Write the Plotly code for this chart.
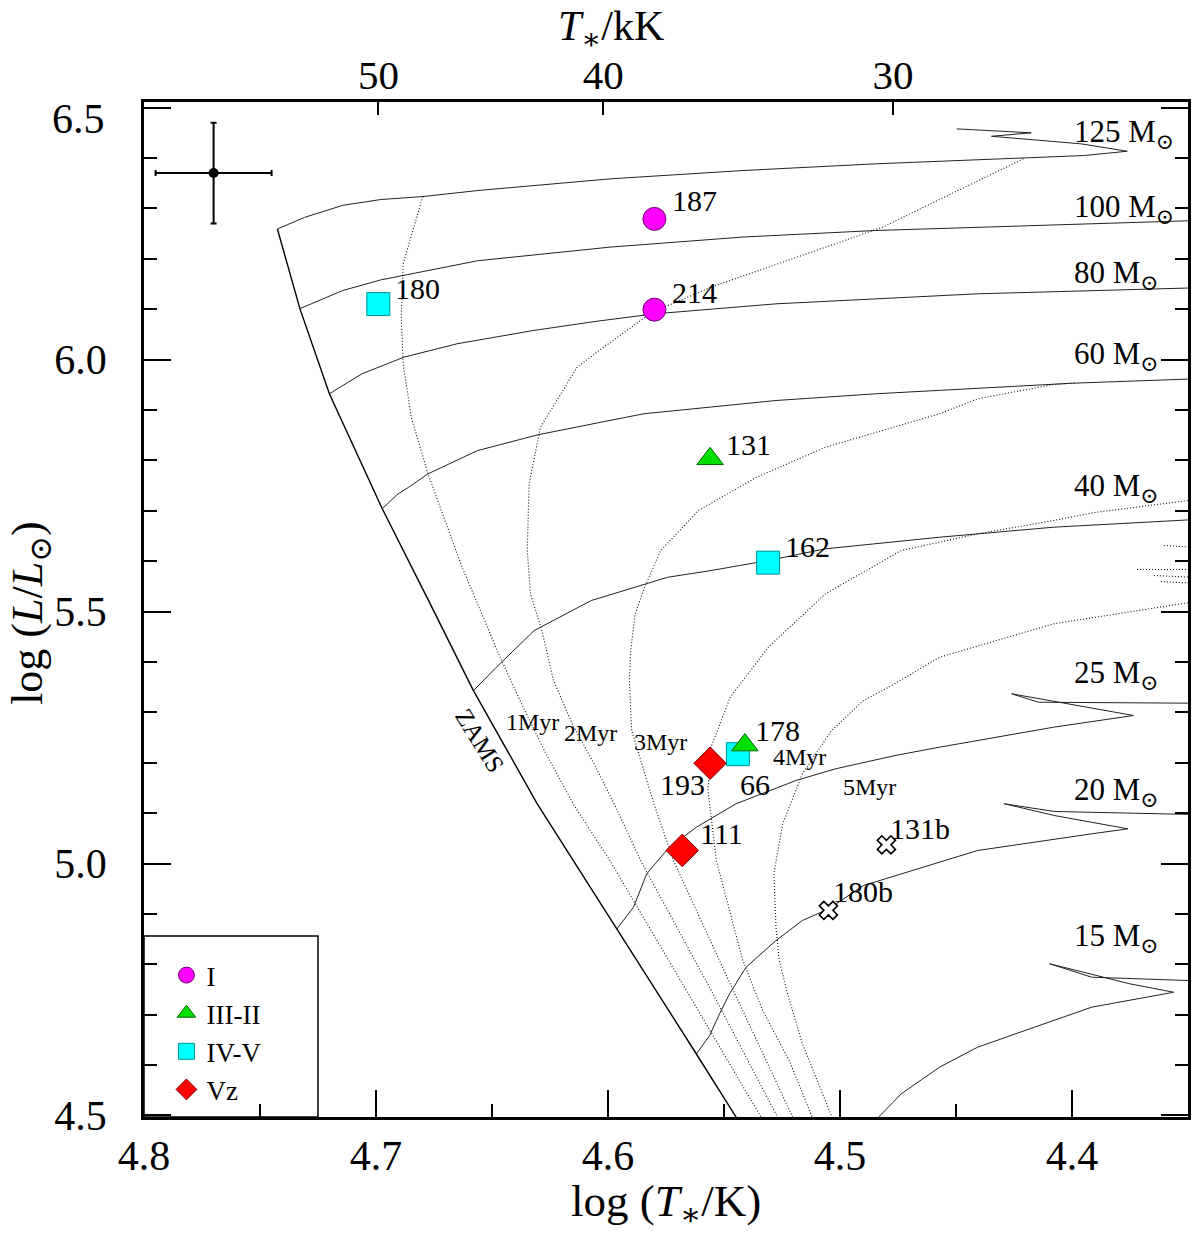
import numpy as np
import plotly.graph_objects as go

FONT = "Liberation Serif, Times New Roman, DejaVu Serif, serif"

# ---------------- data (log T*, log L) ----------------
zams_logT = [4.7425, 4.7328, 4.7201, 4.6973, 4.6776, 4.658, 4.6305, 4.6048, 4.5962, 4.5819, 4.5619, 4.5448, 4.5426]
zams_logL = [6.259, 6.101, 5.932, 5.704, 5.524, 5.343, 5.1185, 4.933, 4.870, 4.768, 4.622, 4.497, 4.480]

track125_logT = [4.7425, 4.7308, 4.7143, 4.6979, 4.6798, 4.6562, 4.5991, 4.5419, 4.4847, 4.4407, 4.3947, 4.3762, 4.3847, 4.3961, 4.4347, 4.4176, 4.4497]
track125_logL = [6.259, 6.282, 6.306, 6.3175, 6.3234, 6.3353, 6.3585, 6.375, 6.3883, 6.3962, 6.4048, 6.4133, 6.4192, 6.428, 6.443, 6.4498, 6.4577]

track100_logT = [4.7328, 4.7143, 4.6979, 4.6815, 4.6562, 4.5992, 4.5419, 4.4847, 4.4407, 4.3915, 4.345]
track100_logL = [6.101, 6.137, 6.158, 6.173, 6.196, 6.223, 6.243, 6.256, 6.2625, 6.2704, 6.276]

track80_logT = [4.7201, 4.7061, 4.688, 4.6651, 4.6323, 4.6048, 4.5798, 4.5276, 4.4407, 4.345]
track80_logL = [5.932, 5.9716, 6.0046, 6.0312, 6.0575, 6.076, 6.0907, 6.1105, 6.1304, 6.1425]

track60_logT = [4.6973, 4.6905, 4.6859, 4.6776, 4.6562, 4.6297, 4.5847, 4.5276, 4.4847, 4.4407, 4.3999, 4.345]
track60_logL = [5.704, 5.7335, 5.7466, 5.7732, 5.8194, 5.8512, 5.8923, 5.9187, 5.932, 5.9431, 5.953, 5.962]

track40_logT = [4.658, 4.6481, 4.6318, 4.6072, 4.5743, 4.5556, 4.5309, 4.5063, 4.4571, 4.4079, 4.345]
track40_logL = [5.343, 5.3895, 5.4623, 5.5218, 5.568, 5.5813, 5.6012, 5.6244, 5.6474, 5.6673, 5.683]

track25_logT = [4.5962, 4.589, 4.5833, 4.5748, 4.5676, 4.5619, 4.5448, 4.519, 4.5019, 4.4762, 4.4571, 4.408, 4.3735, 4.426, 4.4144, 4.345]
track25_logL = [4.870, 4.9133, 4.9796, 5.0258, 5.0522, 5.072, 5.1185, 5.1647, 5.1879, 5.2143, 5.2308, 5.2704, 5.2937, 5.3367, 5.320, 5.318]

track20_logT = [4.5619, 4.5562, 4.5519, 4.5476, 4.5405, 4.5276, 4.5162, 4.5048, 4.4899, 4.4407, 4.3915, 4.3759, 4.4076, 4.4292, 4.4076, 4.345]
track20_logL = [4.622, 4.6587, 4.7018, 4.7415, 4.7942, 4.8472, 4.8869, 4.9101, 4.9563, 5.0258, 5.0589, 5.0688, 5.0952, 5.1185, 5.1032, 5.097]

track15_logT = [4.489, 4.4834, 4.4736, 4.4571, 4.4407, 4.4162, 4.3915, 4.3562, 4.3751, 4.4096, 4.3915, 4.345]
track15_logL = [4.470, 4.4966, 4.543, 4.5958, 4.6355, 4.6752, 4.7149, 4.7446, 4.7613, 4.801, 4.7744, 4.767]

iso1_logT = [4.6798, 4.6883, 4.6891, 4.6883, 4.6848, 4.6776, 4.6629, 4.6465, 4.6369, 4.627, 4.6146, 4.5992, 4.5662, 4.534, 4.5319]
iso1_logL = [6.3234, 6.1899, 6.0839, 5.9915, 5.8855, 5.7732, 5.5879, 5.4093, 5.3135, 5.2202, 5.1151, 5.006, 4.748, 4.496, 4.48]

iso2_logT = [4.421, 4.4817, 4.5556, 4.5812, 4.6048, 4.6133, 4.6291, 4.634, 4.6348, 4.6334, 4.6285, 4.6235, 4.6155, 4.6056, 4.597, 4.5855, 4.5555, 4.5267, 4.525]
iso2_logL = [6.3982, 6.2625, 6.1435, 6.0933, 6.0145, 5.9847, 5.8657, 5.7534, 5.621, 5.5351, 5.4623, 5.3631, 5.2778, 5.1944, 5.1151, 5.002, 4.748, 4.496, 4.48]

iso3_logT = [4.399, 4.408, 4.4407, 4.4571, 4.5063, 4.5362, 4.561, 4.5773, 4.5842, 4.5883, 4.5902, 4.5908, 4.5898, 4.5802, 4.5718, 4.546, 4.5203, 4.519]
iso3_logL = [5.9534, 5.9504, 5.922, 5.8923, 5.826, 5.7659, 5.7004, 5.621, 5.5482, 5.4954, 5.4226, 5.3631, 5.2639, 5.1185, 5.006, 4.748, 4.496, 4.48]

iso4_logT = [4.345, 4.3904, 4.408, 4.4407, 4.4736, 4.5063, 4.5309, 4.5473, 4.5556, 4.5569, 4.5533, 4.5477, 4.5419, 4.5333, 4.5219, 4.5119, 4.5104]
iso4_logL = [5.7232, 5.6964, 5.6806, 5.6542, 5.621, 5.5351, 5.4292, 5.33, 5.2308, 5.1448, 5.006, 4.9067, 4.8075, 4.7083, 4.6091, 4.496, 4.48]

iso5_logT = [4.345, 4.4079, 4.4571, 4.479, 4.4899, 4.504, 4.5162, 4.5247, 4.5285, 4.5276, 4.5262, 4.5226, 4.5162, 4.5033, 4.502]
iso5_logL = [5.521, 5.4756, 5.4093, 5.3498, 5.3234, 5.2619, 5.178, 5.0788, 4.9802, 4.8736, 4.8075, 4.7415, 4.6423, 4.496, 4.48]

tail_logT = [4.3604, 4.345, None, 4.372, 4.345, None, 4.3647, 4.345, None, 4.3617, 4.345]
tail_logL = [5.631, 5.627, None, 5.5833, 5.5833, None, 5.5714, 5.5675, None, 5.5595, 5.5556]

# stars by luminosity class
classI_name = ["187", "214"]
classI_logT = [4.580, 4.580]
classI_logL = [6.279, 6.099]

classIII_name = ["131", "178"]
classIII_logT = [4.556, 4.541]
classIII_logL = [5.803, 5.235]

classIV_name = ["180", "162", "66"]
classIV_logT = [4.699, 4.531, 4.544]
classIV_logL = [6.110, 5.597, 5.217]

classVz_name = ["193", "111"]
classVz_logT = [4.556, 4.568]
classVz_logL = [5.199, 5.026]

comp_name = ["131b", "180b"]
comp_logT = [4.480, 4.505]
comp_logL = [5.037, 4.907]

# star label positions
label_text = ["187", "214", "180", "131", "162", "178", "66", "193", "111", "131b", "180b"]
label_logT = [4.5733, 4.5733, 4.6926, 4.5498, 4.5244, 4.5376, 4.5438, 4.5786, 4.5612, 4.4793, 4.504]
label_logL = [6.3155, 6.1335, 6.1419, 5.8317, 5.6294, 5.2649, 5.1577, 5.1577, 5.060, 5.0688, 4.944]

mass_text = ["125", "100", "80", "60", "40", "25", "20", "15"]
mass_logT = [4.40, 4.40, 4.40, 4.40, 4.40, 4.40, 4.40, 4.40]
mass_logL = [6.4494, 6.3006, 6.170, 6.0099, 5.7466, 5.3764, 5.1448, 4.8538]

age_text = ["1Myr", "2Myr", "3Myr", "4Myr", "5Myr"]
age_logT = [4.6449, 4.6198, 4.5898, 4.5297, 4.4997]
age_logL = [5.2804, 5.2589, 5.2407, 5.2109, 5.1518]

errbar_logT = [4.770]
errbar_logL = [6.370]
errbar_dT = [0.025]
errbar_dL = [0.10]

top_kK = [50, 40, 30]

# ---------------- figure ----------------
fig = go.Figure()

def lines(x, y, width=1.0, dash=None, color="#222222"):
    return go.Scatter(x=x, y=y, mode="lines",
                      line=dict(color=color, width=width, dash=dash),
                      showlegend=False, hoverinfo="skip")

for tx, ty in [(track125_logT, track125_logL), (track100_logT, track100_logL),
               (track80_logT, track80_logL), (track60_logT, track60_logL),
               (track40_logT, track40_logL), (track25_logT, track25_logL),
               (track20_logT, track20_logL), (track15_logT, track15_logL)]:
    fig.add_trace(lines(tx, ty, 1.0, None, "#222222"))

for ix, iy in [(iso1_logT, iso1_logL), (iso2_logT, iso2_logL), (iso3_logT, iso3_logL),
               (iso4_logT, iso4_logL), (iso5_logT, iso5_logL), (tail_logT, tail_logL)]:
    fig.add_trace(lines(ix, iy, 1.1, "1px,2px", "#111111"))

fig.add_trace(lines(zams_logT, zams_logL, 1.4, None, "#000000"))

# error-bar indicator
fig.add_trace(go.Scatter(
    x=errbar_logT, y=errbar_logL, mode="markers",
    marker=dict(color="black", size=10),
    error_x=dict(type="data", array=errbar_dT, color="black", thickness=2, width=3),
    error_y=dict(type="data", array=errbar_dL, color="black", thickness=2, width=3),
    showlegend=False, hoverinfo="skip"))

fig.add_trace(go.Scatter(
    x=classIV_logT, y=classIV_logL, hovertext=classIV_name, mode="markers", name="IV-V",
    legendrank=3,
    marker=dict(symbol="square", size=23, color="#00FFFF", line=dict(color="#009090", width=1))))
fig.add_trace(go.Scatter(
    x=classIII_logT, y=classIII_logL, hovertext=classIII_name, mode="markers", name="III-II",
    legendrank=2,
    marker=dict(symbol="triangle-up", size=23, color="#00E000", line=dict(color="#006600", width=1))))
fig.add_trace(go.Scatter(
    x=classI_logT, y=classI_logL, hovertext=classI_name, mode="markers", name="I",
    legendrank=1,
    marker=dict(symbol="circle", size=23, color="#FF00FF", line=dict(color="#700070", width=1))))
fig.add_trace(go.Scatter(
    x=classVz_logT, y=classVz_logL, hovertext=classVz_name, mode="markers", name="Vz",
    legendrank=4,
    marker=dict(symbol="diamond", size=25, color="#FF0000", line=dict(color="#800000", width=1))))
fig.add_trace(go.Scatter(
    x=comp_logT, y=comp_logL, hovertext=comp_name, mode="markers", showlegend=False,
    marker=dict(symbol="x", size=16, color="white", line=dict(color="black", width=1.6))))

# invisible trace so the top (kK) axis is drawn
fig.add_trace(go.Scatter(x=[4.6], y=[5.0], xaxis="x2", mode="markers",
                         marker=dict(opacity=0), showlegend=False, hoverinfo="skip"))

ann = []
for t, x, y in zip(label_text, label_logT, label_logL):
    ann.append(dict(x=x, y=y, xref="x", yref="y", text=t, showarrow=False,
                    xanchor="left", yanchor="middle", font=dict(size=30)))
for t, x, y in zip(mass_text, mass_logT, mass_logL):
    ann.append(dict(x=x, y=y, xref="x", yref="y", text=t + " M<sub>⊙</sub>", showarrow=False,
                    xanchor="left", yanchor="middle", yshift=-1, font=dict(size=31)))
for t, x, y in zip(age_text, age_logT, age_logL):
    ann.append(dict(x=x, y=y, xref="x", yref="y", text=t, showarrow=False,
                    xanchor="left", yanchor="middle", font=dict(size=24)))
ann.append(dict(x=4.6553, y=5.244, xref="x", yref="y", text="ZAMS", showarrow=False,
                textangle=58, font=dict(size=25)))
# axis titles
ann.append(dict(x=0.5, y=-0.086, xref="paper", yref="paper", showarrow=False,
                text="log (<i>T</i><sub>∗</sub>/K)", xanchor="center", yanchor="middle",
                font=dict(size=45)))
ann.append(dict(x=-0.1089, y=0.497, xref="paper", yref="paper", showarrow=False,
                text="log (<i>L</i>/<i>L</i><sub>⊙</sub>)", textangle=-90,
                xanchor="center", yanchor="middle", font=dict(size=44)))
ann.append(dict(x=0.447, y=1.072, xref="paper", yref="paper", showarrow=False,
                text="<i>T</i><sub>∗</sub>/kK", xanchor="center", yanchor="middle",
                font=dict(size=42)))
# top-most y tick label sits slightly below its tick
ann.append(dict(x=-0.035, y=6.5, xref="paper", yref="y", showarrow=False, text="6.5",
                xanchor="right", yanchor="middle", yshift=-11, font=dict(size=42)))

axis_common = dict(showgrid=False, zeroline=False, tickcolor="black", tickwidth=1.5,
                   linecolor="black", linewidth=2.5, showline=True)

# the page body adds an 8 px offset, so the figure is made smaller and margins compensate
fig.update_layout(
    width=1184, height=1221,
    margin=dict(l=136, r=1, t=94, b=112),
    plot_bgcolor="white", paper_bgcolor="white",
    font=dict(family=FONT, size=30, color="black"),
    xaxis=dict(range=[4.8, 4.35], dtick=0.1, tick0=4.4, tickformat=".1f",
               ticks="inside", ticklen=27, mirror=True,
               tickfont=dict(size=42), ticklabelstandoff=0,
               minor=dict(dtick=0.05, tick0=4.4, ticks="inside", ticklen=13,
                          tickwidth=1.5, tickcolor="black", showgrid=False),
               **axis_common),
    xaxis2=dict(overlaying="x", side="top", range=[4.8, 4.35],
                tickmode="array", tickvals=list(np.log10(np.array(top_kK) * 1000.0)),
                ticktext=[str(v) for v in top_kK], ticks="inside", ticklen=13,
                tickwidth=1.5, tickcolor="black", showline=False, showgrid=False,
                zeroline=False, tickfont=dict(size=41), ticklabelstandoff=4),
    yaxis=dict(range=[4.497, 6.511], tickmode="array",
               tickvals=[4.5, 5.0, 5.5, 6.0, 6.5], ticktext=["4.5", "5.0", "5.5", "6.0", ""],
               ticks="inside", ticklen=27, mirror="ticks",
               tickfont=dict(size=42), ticklabelstandoff=26,
               minor=dict(tickmode="linear", tick0=4.5, dtick=0.1, ticks="inside", ticklen=13,
                          tickwidth=1.5, tickcolor="black", showgrid=False),
               **axis_common),
    legend=dict(x=0.0215, y=0.1635, xanchor="left", yanchor="top",
                bgcolor="rgba(0,0,0,0)", borderwidth=0, font=dict(size=27),
                tracegroupgap=0),
    annotations=ann,
    shapes=[dict(type="rect", xref="x", yref="y", x0=4.8, x1=4.725, y0=4.497, y1=4.856,
                 line=dict(color="black", width=1.5), fillcolor="rgba(0,0,0,0)", layer="above")],
)

fig.write_html("out.html")
